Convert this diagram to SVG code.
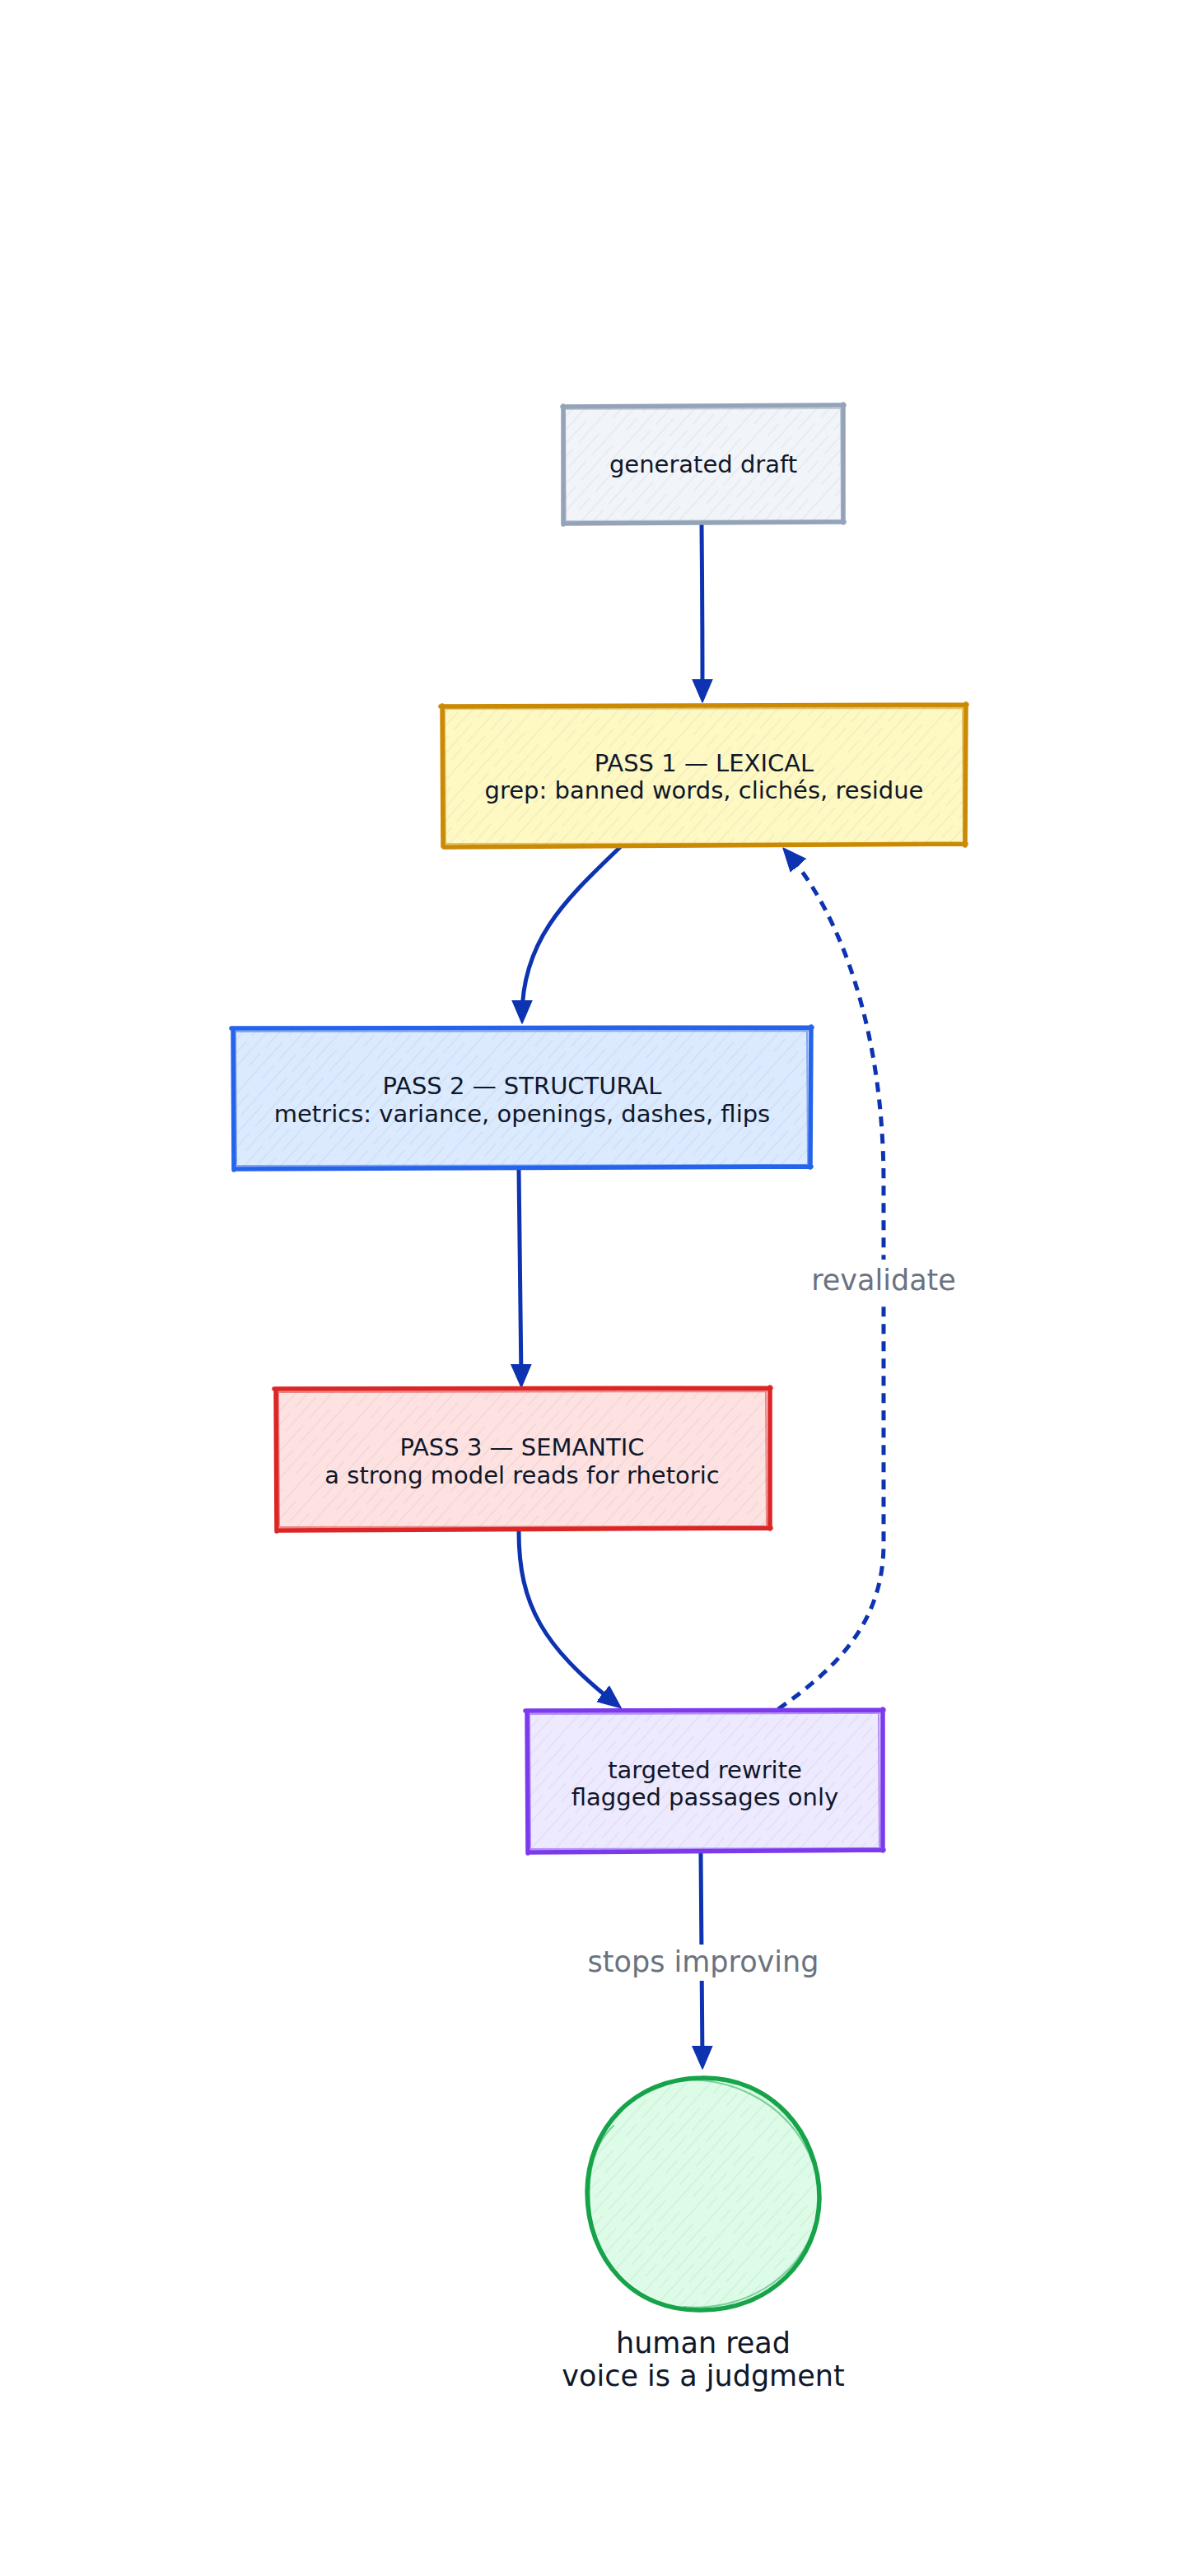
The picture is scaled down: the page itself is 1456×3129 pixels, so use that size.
<svg xmlns="http://www.w3.org/2000/svg" width="1456" height="3129" viewBox="0 0 1456 3129">
  <style>
    .lbl { font-family: "DejaVu Sans", "Liberation Sans", sans-serif; font-size: 29px; fill: #0f172a; text-anchor: middle; dominant-baseline: central; }
    .big { font-family: "DejaVu Sans", "Liberation Sans", sans-serif; font-size: 35px; fill: #0f172a; text-anchor: middle; dominant-baseline: central; }
    .elbl { font-family: "DejaVu Sans", "Liberation Sans", sans-serif; font-size: 35px; fill: #6b7280; text-anchor: middle; dominant-baseline: central; }
    .edge { fill: none; stroke: #0d33b0; stroke-width: 5; stroke-linecap: round; }
    .dash { stroke-dasharray: 12 9; stroke-linecap: butt; }
    .main { fill: none; stroke-width: 5.5; stroke-linejoin: round; stroke-linecap: round; }
    .sec { fill: none; stroke-width: 2; opacity: 0.5; stroke-linecap: round; }
    .hatch { fill: url(#hatch); }
  </style>
  <defs>
    <pattern id="hatch" patternUnits="userSpaceOnUse" width="22" height="110" patternTransform="rotate(42)">
      <path d="M2 0 V40 M2 50 V110 M13 14 V70 M13 80 V100" stroke="#1f2937" stroke-opacity="0.07" stroke-width="1.3" fill="none"/>
    </pattern>
    <marker id="arr" markerUnits="userSpaceOnUse" markerWidth="32" markerHeight="28" viewBox="0 0 32 28" refX="19" refY="14" orient="auto">
      <path d="M0 2 L28 14 L0 26 Z" fill="#0d33b0" stroke="#0d33b0" stroke-width="1.5" stroke-linejoin="round"/>
    </marker>
  </defs>

  <rect width="1456" height="3129" fill="#ffffff"/>

  <g id="connectors">
    <path class="edge" d="M852 637 Q853 740 853 844" marker-end="url(#arr)"/>
    <path class="edge" d="M753 1029 C690 1090 634 1140 634 1234" marker-end="url(#arr)"/>
    <path class="edge" d="M630 1421 Q632 1550 633 1676" marker-end="url(#arr)"/>
    <path class="edge" d="M630 1860 C630 1950 660 2000 747 2069" marker-end="url(#arr)"/>
    <path class="edge" d="M851 2251 L853 2504" marker-end="url(#arr)"/>
    <path class="edge dash" d="M945 2076 C1010 2030 1073 1975 1073 1875 L1073 1436 C1073 1250 1020 1110 957 1037" marker-end="url(#arr)"/>
    <rect x="700" y="2362" width="308" height="44" fill="#ffffff"/>
    <text class="elbl" x="854" y="2383">stops improving</text>
    <rect x="978" y="1530" width="190" height="50" fill="#ffffff"/>
    <text class="elbl" x="1073" y="1555">revalidate</text>
  </g>

  <g id="node-draft">
    <rect x="684" y="494" width="340" height="140" fill="#f1f5f9"/>
    <rect x="684" y="494" width="340" height="140" class="hatch"/>
    <path class="main" stroke="#94a3b8" d="M683 494 L1025 492 M1024 491 L1024 635 M1025 634 L685 636 M684 637 L684 493"/>
    <path class="sec" stroke="#94a3b8" d="M686 497 L1022 496 M1021 496 L1022 631 M1020 632 L688 633 M687 632 L686 498"/>
    <text class="lbl" x="854" y="564">generated draft</text>
  </g>

  <g id="node-pass1">
    <rect x="537" y="857" width="636" height="170" fill="#fef9c3"/>
    <rect x="537" y="857" width="636" height="170" class="hatch"/>
    <path class="main" stroke="#ca8a04" d="M535 858 L1174 856 M1173 855 L1172 1027 M1173 1025 L539 1029 M538 1028 L537 857"/>
    <path class="sec" stroke="#ca8a04" d="M540 861 L1170 860 M1169 861 L1170 1023 M1168 1024 L542 1025 M541 1024 L540 862"/>
    <text class="lbl" x="855" y="927">PASS 1 — LEXICAL</text>
    <text class="lbl" x="855" y="960">grep: banned words, clichés, residue</text>
  </g>

  <g id="node-pass2">
    <rect x="283" y="1249" width="702" height="169" fill="#dbeafe"/>
    <rect x="283" y="1249" width="702" height="169" class="hatch"/>
    <path class="main" stroke="#2563eb" d="M281 1249 L986 1248 M985 1247 L984 1418 M985 1417 L285 1420 M284 1421 L283 1250"/>
    <path class="sec" stroke="#2563eb" d="M286 1253 L981 1252 M980 1253 L981 1414 M979 1415 L288 1416 M287 1414 L286 1254"/>
    <text class="lbl" x="634" y="1319">PASS 2 — STRUCTURAL</text>
    <text class="lbl" x="634" y="1353">metrics: variance, openings, dashes, flips</text>
  </g>

  <g id="node-pass3">
    <rect x="335" y="1687" width="600" height="170" fill="#fee2e2"/>
    <rect x="335" y="1687" width="600" height="170" class="hatch"/>
    <path class="main" stroke="#dc2626" d="M333 1687 L936 1686 M935 1685 L935 1857 M936 1856 L337 1859 M336 1860 L335 1688"/>
    <path class="sec" stroke="#dc2626" d="M338 1691 L931 1690 M930 1691 L931 1853 M929 1854 L340 1855 M339 1853 L338 1692"/>
    <text class="lbl" x="634" y="1758">PASS 3 — SEMANTIC</text>
    <text class="lbl" x="634" y="1792">a strong model reads for rhetoric</text>
  </g>

  <g id="node-rewrite">
    <rect x="640" y="2078" width="432" height="170" fill="#ede9fe"/>
    <rect x="640" y="2078" width="432" height="170" class="hatch"/>
    <path class="main" stroke="#7c3aed" d="M638 2078 L1073 2077 M1072 2076 L1072 2248 M1073 2247 L642 2250 M641 2251 L640 2079"/>
    <path class="sec" stroke="#7c3aed" d="M643 2082 L1068 2081 M1067 2082 L1068 2244 M1066 2245 L645 2246 M644 2244 L643 2083"/>
    <text class="lbl" x="856" y="2150">targeted rewrite</text>
    <text class="lbl" x="856" y="2183">flagged passages only</text>
  </g>

  <g id="node-human">
    <circle cx="854" cy="2665" r="140" fill="#dcfce7"/>
    <circle cx="854" cy="2665" r="140" class="hatch"/>
    <path class="main" stroke="#16a34a" stroke-width="6" d="M852 2524 C935 2522 995 2590 995 2670 C994 2745 935 2806 852 2806 C770 2808 713 2745 713 2662 C714 2585 770 2525 852 2524"/>
    <path class="sec" stroke="#16a34a" d="M800 2532 C870 2512 960 2548 988 2630 M990 2700 C970 2770 900 2808 830 2802 M718 2700 C712 2650 716 2610 745 2582"/>
    <text class="big" x="854" y="2846">human read</text>
    <text class="big" x="854" y="2886">voice is a judgment</text>
  </g>
</svg>
